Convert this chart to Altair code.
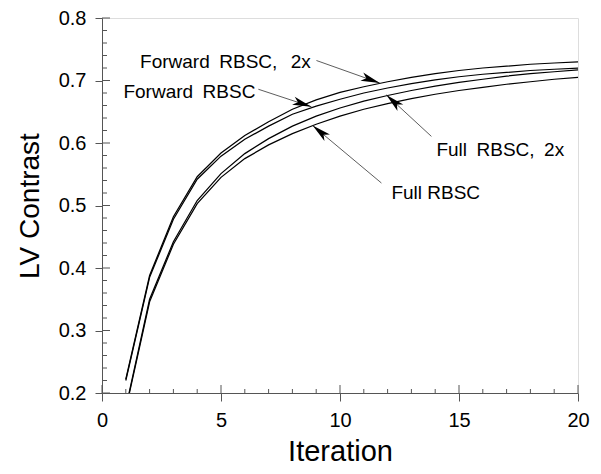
import math
import altair as alt
import pandas as pd

iterations = list(range(1, 21))
forward_2x = [0.222, 0.388, 0.482, 0.546, 0.584, 0.612, 0.634, 0.654, 0.669, 0.681,
              0.690, 0.698, 0.705, 0.711, 0.716, 0.720, 0.723, 0.726, 0.728, 0.730]
forward = [0.220, 0.385, 0.478, 0.542, 0.579, 0.606, 0.627, 0.646, 0.659, 0.670,
           0.680, 0.688, 0.695, 0.701, 0.706, 0.710, 0.713, 0.716, 0.718, 0.720]
full_2x = [0.176, 0.350, 0.442, 0.508, 0.551, 0.583, 0.607, 0.627, 0.643, 0.656,
           0.667, 0.676, 0.684, 0.691, 0.697, 0.702, 0.707, 0.711, 0.714, 0.717]
full = [0.174, 0.346, 0.438, 0.503, 0.545, 0.575, 0.597, 0.615, 0.630, 0.643,
        0.654, 0.663, 0.671, 0.678, 0.684, 0.689, 0.694, 0.698, 0.702, 0.705]

series_names = ["Forward RBSC, 2x", "Forward RBSC", "Full RBSC, 2x", "Full RBSC"]
series_values = [forward_2x, forward, full_2x, full]
# label texts as typeset in the figure (wider word gaps)
label_texts = ["Forward\u2002RBSC,\u2002\u20092x", "Forward\u2002RBSC", "Full\u2002RBSC,\u20022x", "Full RBSC"]

label_x = [1.6, 0.9, 14.05, 12.16]
label_y = [0.729, 0.681, 0.589, 0.520]
arrow_tail_x = [9.01, 6.57, 13.84, 11.74]
arrow_tail_y = [0.732, 0.686, 0.6106, 0.536]
arrow_tip_x = [11.67, 8.8, 11.95, 8.85]
arrow_tip_y = [0.696, 0.658, 0.677, 0.628]

x_major = [0, 5, 10, 15, 20]
x_minor = [v for v in range(0, 21) if v % 5 != 0]
y_major = [0.2, 0.3, 0.4, 0.5, 0.6, 0.7, 0.8]
y_minor = [round(0.2 + 0.02 * i, 2) for i in range(31) if i % 5 != 0]

W, H = 476, 375
X_DOMAIN = [0, 20]
Y_DOMAIN = [0.2, 0.8]
FONT = "Liberation Sans"
AXC = "#555555"

rows = []
for name, vals in zip(series_names, series_values):
    for it, v in zip(iterations, vals):
        rows.append({"series": name, "iteration": it, "value": v})
df = pd.DataFrame(rows)

sx = W / (X_DOMAIN[1] - X_DOMAIN[0])
sy = H / (Y_DOMAIN[1] - Y_DOMAIN[0])
ann = []
for i, name in enumerate(series_names):
    ux = (arrow_tip_x[i] - arrow_tail_x[i]) * sx
    uy = -(arrow_tip_y[i] - arrow_tail_y[i]) * sy
    ang = math.degrees(math.atan2(ux, -uy)) % 360
    ann.append({"label": label_texts[i], "lx": label_x[i], "ly": label_y[i],
                "tx": arrow_tail_x[i], "ty": arrow_tail_y[i],
                "hx": arrow_tip_x[i], "hy": arrow_tip_y[i], "ang": ang})
adf = pd.DataFrame(ann)

xscale = alt.Scale(domain=X_DOMAIN, nice=False, zero=False)
yscale = alt.Scale(domain=Y_DOMAIN, nice=False, zero=False)
xaxis = alt.Axis(values=x_major, format="d", tickSize=8, tickColor=AXC, domainColor=AXC,
                 labelFontSize=20, labelFont=FONT, labelColor="black", labelPadding=9,
                 title="Iteration", titleFontSize=29, titleFont=FONT, titleFontWeight="normal",
                 titleColor="black", titlePadding=7, grid=False, labelFlush=False)
yaxis = alt.Axis(values=y_major, format=".1f", tickSize=7, tickColor=AXC, domainColor=AXC,
                 labelFontSize=20, labelFont=FONT, labelColor="black", labelPadding=9,
                 title="LV Contrast", titleFontSize=28, titleFont=FONT, titleFontWeight="normal",
                 titleColor="black", titlePadding=14, grid=False, labelFlush=False)


def X(field):
    return alt.X(field, type="quantitative", scale=xscale, axis=xaxis)


def Y(field):
    return alt.Y(field, type="quantitative", scale=yscale, axis=yaxis)


lines = alt.Chart(df).mark_line(color="black", strokeWidth=1.25, clip=True).encode(
    x=X("iteration"), y=Y("value"), detail="series:N"
)

xmaj_df = pd.DataFrame({"v": x_major})
xmin_df = pd.DataFrame({"v": x_minor})
ymaj_df = pd.DataFrame({"v": y_major})
ymin_df = pd.DataFrame({"v": y_minor})

xmaj_in = alt.Chart(xmaj_df).mark_rule(color=AXC, strokeWidth=1).encode(
    x=X("v"), y=alt.value(H), y2=alt.value(H - 8))
xmin_in = alt.Chart(xmin_df).mark_rule(color=AXC, strokeWidth=1).encode(
    x=X("v"), y=alt.value(H), y2=alt.value(H - 4))
ymaj_in = alt.Chart(ymaj_df).mark_rule(color=AXC, strokeWidth=1).encode(
    y=Y("v"), x=alt.value(0), x2=alt.value(8))
ymin_in = alt.Chart(ymin_df).mark_rule(color=AXC, strokeWidth=1).encode(
    y=Y("v"), x=alt.value(0), x2=alt.value(5))

arrows = alt.Chart(adf).mark_rule(color="#333333", strokeWidth=0.8).encode(
    x=X("tx"), y=Y("ty"), x2="hx", y2="hy")

heads = alt.Chart(adf).mark_point(
    shape="M0,0 L0.45,2 L0,1.5 L-0.45,2 Z", filled=True, color="black", opacity=1, size=361
).encode(x=X("hx"), y=Y("hy"), angle=alt.Angle("ang:Q", scale=None))

labels = alt.Chart(adf).mark_text(
    align="left", baseline="middle", font=FONT, fontSize=19, color="black"
).encode(x=X("lx"), y=Y("ly"), text="label:N")

chart = alt.layer(lines, xmaj_in, xmin_in, ymaj_in, ymin_in, arrows, heads, labels).properties(
    width=W, height=H,
    autosize=alt.AutoSizeParams(type="none"),
    padding={"left": 94, "top": 10, "right": 15, "bottom": 80},
).configure_view(stroke="#999999", strokeWidth=1).configure(background="white")

chart.save("out.html", embed_options={"renderer": "svg", "actions": False})
